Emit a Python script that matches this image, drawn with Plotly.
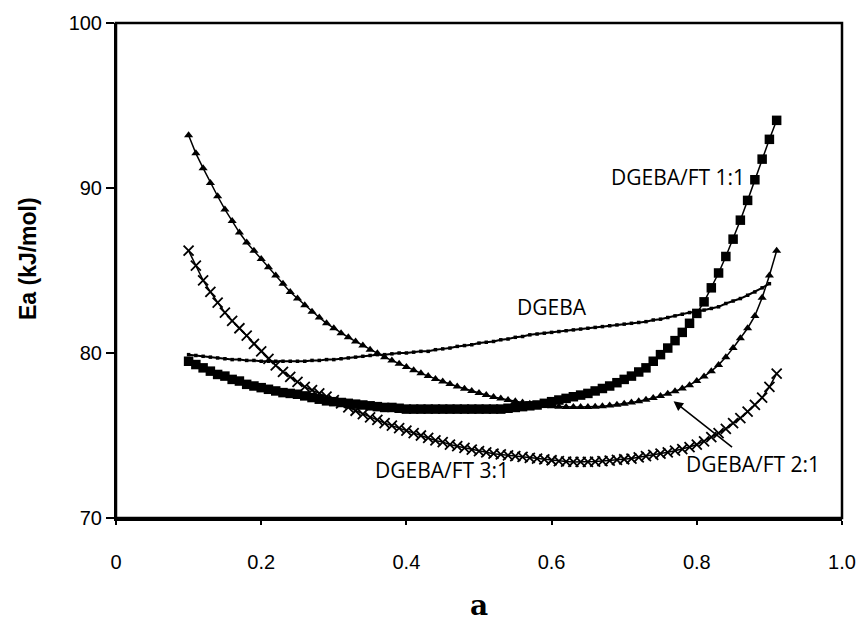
import plotly.graph_objects as go

# ---- data ----
x_vals = [0.10, 0.11, 0.12, 0.13, 0.14, 0.15, 0.16, 0.17, 0.18, 0.19,
          0.20, 0.21, 0.22, 0.23, 0.24, 0.25, 0.26, 0.27, 0.28, 0.29,
          0.30, 0.31, 0.32, 0.33, 0.34, 0.35, 0.36, 0.37, 0.38, 0.39,
          0.40, 0.41, 0.42, 0.43, 0.44, 0.45, 0.46, 0.47, 0.48, 0.49,
          0.50, 0.51, 0.52, 0.53, 0.54, 0.55, 0.56, 0.57, 0.58, 0.59,
          0.60, 0.61, 0.62, 0.63, 0.64, 0.65, 0.66, 0.67, 0.68, 0.69,
          0.70, 0.71, 0.72, 0.73, 0.74, 0.75, 0.76, 0.77, 0.78, 0.79,
          0.80, 0.81, 0.82, 0.83, 0.84, 0.85, 0.86, 0.87, 0.88, 0.89,
          0.90, 0.91]

ea_dgeba = [79.9, 79.85, 79.8, 79.75, 79.7, 79.65, 79.6, 79.6, 79.55, 79.55,
            79.5, 79.5, 79.5, 79.5, 79.5, 79.5, 79.5, 79.55, 79.55, 79.6,
            79.6, 79.65, 79.7, 79.75, 79.8, 79.85, 79.9, 79.9, 79.95, 80.0,
            80.0, 80.05, 80.1, 80.1, 80.2, 80.25, 80.3, 80.4, 80.45, 80.5,
            80.6, 80.65, 80.7, 80.8, 80.85, 80.95, 81.0, 81.1, 81.15, 81.2,
            81.25, 81.3, 81.35, 81.4, 81.45, 81.5, 81.55, 81.6, 81.65, 81.7,
            81.75, 81.8, 81.85, 81.9, 82.0, 82.05, 82.15, 82.25, 82.35, 82.45,
            82.5, 82.6, 82.7, 82.8, 83.0, 83.15, 83.3, 83.5, 83.7, 83.95,
            84.2]

ea_ft11 = [79.5, 79.3, 79.1, 78.9, 78.7, 78.6, 78.4, 78.3, 78.1, 78.0,
           77.9, 77.8, 77.7, 77.6, 77.55, 77.5, 77.4, 77.3, 77.2, 77.1,
           77.05, 77.0, 76.95, 76.9, 76.85, 76.8, 76.75, 76.7, 76.7, 76.65,
           76.6, 76.6, 76.6, 76.6, 76.6, 76.6, 76.6, 76.6, 76.6, 76.6,
           76.6, 76.6, 76.6, 76.6, 76.65, 76.7, 76.75, 76.8, 76.85, 76.95,
           77.05, 77.15, 77.25, 77.35, 77.45, 77.55, 77.7, 77.85, 78.0, 78.2,
           78.4, 78.6, 78.85, 79.1, 79.5, 79.9, 80.3, 80.75, 81.25, 81.8,
           82.4, 83.1, 83.95, 84.85, 85.85, 86.9, 88.05, 89.25, 90.5, 91.75,
           92.95, 94.1]

ea_ft21 = [93.2, 92.1, 91.2, 90.3, 89.5, 88.7, 88.0, 87.3, 86.7, 86.2,
           85.7, 85.2, 84.7, 84.2, 83.7, 83.3, 82.9, 82.5, 82.15, 81.8,
           81.5, 81.2, 80.95, 80.7, 80.45, 80.2, 79.98, 79.75, 79.55, 79.35,
           79.15, 78.95, 78.78, 78.6, 78.43, 78.27, 78.12, 77.97, 77.83, 77.7,
           77.57, 77.45, 77.34, 77.24, 77.15, 77.07, 77.0, 76.93, 76.87, 76.82,
           76.78, 76.75, 76.73, 76.72, 76.72, 76.73, 76.75, 76.78, 76.82, 76.87,
           76.93, 77.0, 77.08, 77.17, 77.28, 77.4, 77.53, 77.68, 77.85, 78.05,
           78.3, 78.58, 78.9, 79.28, 79.75, 80.3, 80.9, 81.5, 82.25, 83.35,
           84.7, 86.2]

ea_ft31 = [86.2, 85.3, 84.4, 83.7, 83.05, 82.45, 81.95, 81.5, 81.05, 80.55,
           80.1, 79.65, 79.25, 78.85, 78.55, 78.25, 77.95, 77.75, 77.55, 77.35,
           77.15, 76.95, 76.7, 76.5, 76.3, 76.1, 75.95, 75.75, 75.6, 75.45,
           75.3, 75.15, 75.0, 74.85, 74.7, 74.6, 74.45, 74.35, 74.25, 74.15,
           74.05, 73.98, 73.9, 73.85, 73.8, 73.75, 73.7, 73.65, 73.6, 73.55,
           73.5, 73.45, 73.42, 73.4, 73.4, 73.4, 73.42, 73.45, 73.48, 73.52,
           73.56, 73.6, 73.68, 73.75, 73.82, 73.9, 73.98, 74.08, 74.18, 74.3,
           74.45, 74.65, 74.9, 75.15, 75.4, 75.75, 76.05, 76.45, 76.85, 77.3,
           77.95, 78.75]

x_ticks = [0, 0.2, 0.4, 0.6, 0.8, 1.0]
x_tick_text = ["0", "0.2", "0.4", "0.6", "0.8", "1.0"]
y_ticks = [70, 80, 90, 100]

labels = ["DGEBA/FT 1:1", "DGEBA", "DGEBA/FT 3:1", "DGEBA/FT 2:1"]
label_x = [0.774, 0.601, 0.449, 0.877]
label_y = [90.64, 82.78, 72.88, 73.3]

# ---- figure ----
fig = go.Figure()

fig.add_trace(go.Scatter(
    x=x_vals[:len(ea_dgeba)], y=ea_dgeba, mode="lines+markers", name="DGEBA",
    line=dict(color="black", width=2),
    marker=dict(symbol="square", size=3.5, color="black")))

fig.add_trace(go.Scatter(
    x=x_vals, y=ea_ft11, mode="lines+markers", name="DGEBA/FT 1:1",
    line=dict(color="black", width=1.5),
    marker=dict(symbol="square", size=9.5, color="black")))

fig.add_trace(go.Scatter(
    x=x_vals, y=ea_ft21, mode="lines+markers", name="DGEBA/FT 2:1",
    line=dict(color="black", width=1.5),
    marker=dict(symbol="triangle-up", size=8, color="black")))

fig.add_trace(go.Scatter(
    x=x_vals, y=ea_ft31, mode="lines+markers", name="DGEBA/FT 3:1",
    line=dict(color="black", width=1.5),
    marker=dict(symbol="x-thin", size=10, color="black",
                line=dict(color="black", width=1.8))))

annots = []
for t, lx, ly in zip(labels, label_x, label_y):
    annots.append(dict(x=lx, y=ly, xref="x", yref="y", text=t, showarrow=False,
                       xanchor="center", yanchor="middle",
                       font=dict(family="Open Sans", size=21, color="black")))

# arrow pointing to the DGEBA/FT 2:1 curve
annots.append(dict(x=0.768, y=77.08, xref="x", yref="y", text="", showarrow=True,
                   ax=60, ay=47, arrowhead=2, arrowsize=1.2, arrowwidth=1.6,
                   arrowcolor="black"))

# axis titles
annots.append(dict(x=0.5, y=-0.214, xref="paper", yref="paper", text="<b>a</b>",
                   showarrow=False, xanchor="center", yanchor="bottom",
                   font=dict(family="DejaVu Serif", size=28, color="black")))
annots.append(dict(x=-0.1215, y=0.653, xref="paper", yref="paper",
                   text="<b>Ea (kJ/mol)</b>", textangle=-90,
                   showarrow=False, xanchor="center", yanchor="top",
                   font=dict(family="Liberation Sans", size=23, color="black")))

fig.update_layout(
    width=868, height=628,
    margin=dict(l=116, r=19, t=18, b=110),
    paper_bgcolor="white", plot_bgcolor="white",
    showlegend=False,
    annotations=annots,
    shapes=[dict(type="rect", xref="paper", yref="paper", x0=0, y0=0, x1=1, y1=1,
                 line=dict(color="black", width=2.5), layer="above")],
    xaxis=dict(range=[0, 1], tickvals=x_ticks, ticktext=x_tick_text,
               showgrid=False, zeroline=False,
               showline=True, linecolor="black", linewidth=3,
               ticks="outside", ticklen=4, tickwidth=2, tickcolor="black",
               ticklabelstandoff=20,
               tickfont=dict(family="Liberation Sans", size=20, color="black")),
    yaxis=dict(range=[70, 100], tickvals=y_ticks,
               showgrid=False, zeroline=False,
               showline=True, linecolor="black", linewidth=2,
               ticks="outside", ticklen=8, tickwidth=2, tickcolor="black",
               tickfont=dict(family="Liberation Sans", size=20, color="black")),
)

fig.write_html("out.html")
